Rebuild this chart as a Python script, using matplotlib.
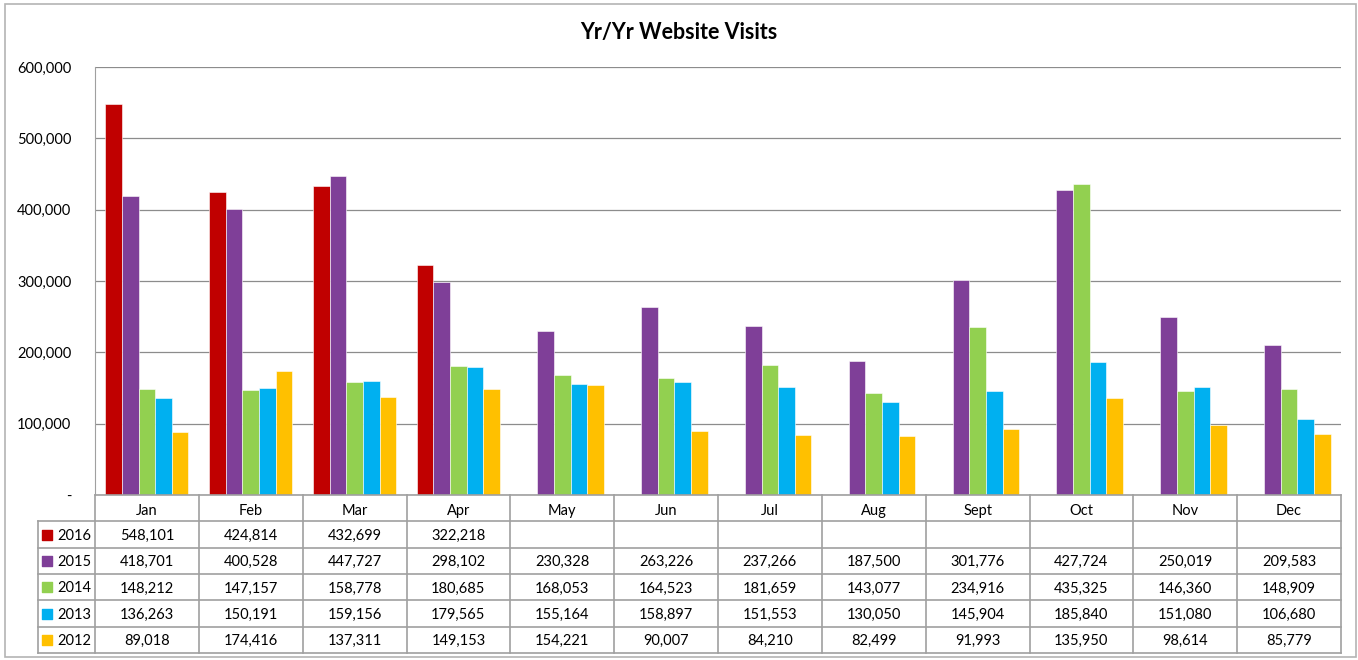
import matplotlib.pyplot as plt
import numpy as np

plt.rcParams['font.family'] = ['Lato', 'DejaVu Sans']

months = ["Jan", "Feb", "Mar", "Apr", "May", "Jun", "Jul", "Aug", "Sept", "Oct", "Nov", "Dec"]
years = ["2016", "2015", "2014", "2013", "2012"]
v2016 = [548101, 424814, 432699, 322218, None, None, None, None, None, None, None, None]
v2015 = [418701, 400528, 447727, 298102, 230328, 263226, 237266, 187500, 301776, 427724, 250019, 209583]
v2014 = [148212, 147157, 158778, 180685, 168053, 164523, 181659, 143077, 234916, 435325, 146360, 148909]
v2013 = [136263, 150191, 159156, 179565, 155164, 158897, 151553, 130050, 145904, 185840, 151080, 106680]
v2012 = [89018, 174416, 137311, 149153, 154221, 90007, 84210, 82499, 91993, 135950, 98614, 85779]
colors = ["#C00000", "#7F3F98", "#92D050", "#00B0F0", "#FFC000"]

series = [v2016, v2015, v2014, v2013, v2012]

W, H = 1358, 660
fig = plt.figure(figsize=(W / 100, H / 100), dpi=100)

# outer chart border
fig.patches.append(plt.Rectangle((5 / W, 3 / H), 1351 / W, 653 / H, transform=fig.transFigure,
                                 fill=False, edgecolor="#B4B4B4", lw=1.2))

left, right = 95, 1341
top, base, tbot = 67, 495, 653
ax = fig.add_axes([left / W, (H - base) / H, (right - left) / W, (base - top) / H])
tax = fig.add_axes([left / W, (H - tbot) / H, (right - left) / W, (tbot - base) / H])

grid_c = "#8C8C8C"
line_c = "#A0A0A0"

# bars
n = len(series)
bw = 0.16
x = np.arange(len(months)) + 0.5
for i, (vals, c) in enumerate(zip(series, colors)):
    xs = [xx + (i - (n - 1) / 2) * bw for xx, v in zip(x, vals) if v is not None]
    ys = [v for v in vals if v is not None]
    ax.bar(xs, ys, width=bw, color=c, edgecolor="white", linewidth=0.4, zorder=3)

ax.set_xlim(0, 12)
ax.set_ylim(0, 600000)
ax.set_yticks(range(0, 600001, 100000))
ax.set_yticklabels(["-"] + [f"{t:,}" for t in range(100000, 600001, 100000)], fontsize=10.5)
ax.yaxis.grid(True, color=grid_c, lw=0.9, zorder=0)
ax.set_xticks([])
ax.tick_params(axis="y", length=0, pad=17)
for s in ["top", "right", "bottom"]:
    ax.spines[s].set_visible(False)
ax.spines["left"].set_color(line_c)

fig.text(0.5, 1 - 32 / H, "Yr/Yr Website Visits", ha="center", va="center",
         fontsize=15.5, fontweight="bold")

# data table
tax.set_xlim(0, 12)
tax.set_ylim(6, 0)
tax.axis("off")
lx = (37.5 - left) / ((right - left) / 12)
kw = dict(color=line_c, lw=1.2, clip_on=False)
tax.plot([0, 12], [0, 0], **kw)
for r in range(1, 7):
    tax.plot([lx, 12], [r, r], **kw)
for c in range(0, 13):
    tax.plot([c, c], [0, 6], **kw)
tax.plot([lx, lx], [1, 6], **kw)

for j, m in enumerate(months):
    tax.text(j + 0.5, 0.6, m, ha="center", va="center", fontsize=10.5)
for i, (vals, yr, c) in enumerate(zip(series, years, colors)):
    r = i + 1.55
    tax.scatter([lx + 0.095], [r - 0.05], marker="s", s=48, color=c, clip_on=False)
    tax.text(lx + 0.19, r, yr, ha="left", va="center", fontsize=10.5)
    for j, v in enumerate(vals):
        if v is not None:
            tax.text(j + 0.5, r, f"{v:,}", ha="center", va="center", fontsize=10.5)

fig.savefig("out.png", dpi=100)
